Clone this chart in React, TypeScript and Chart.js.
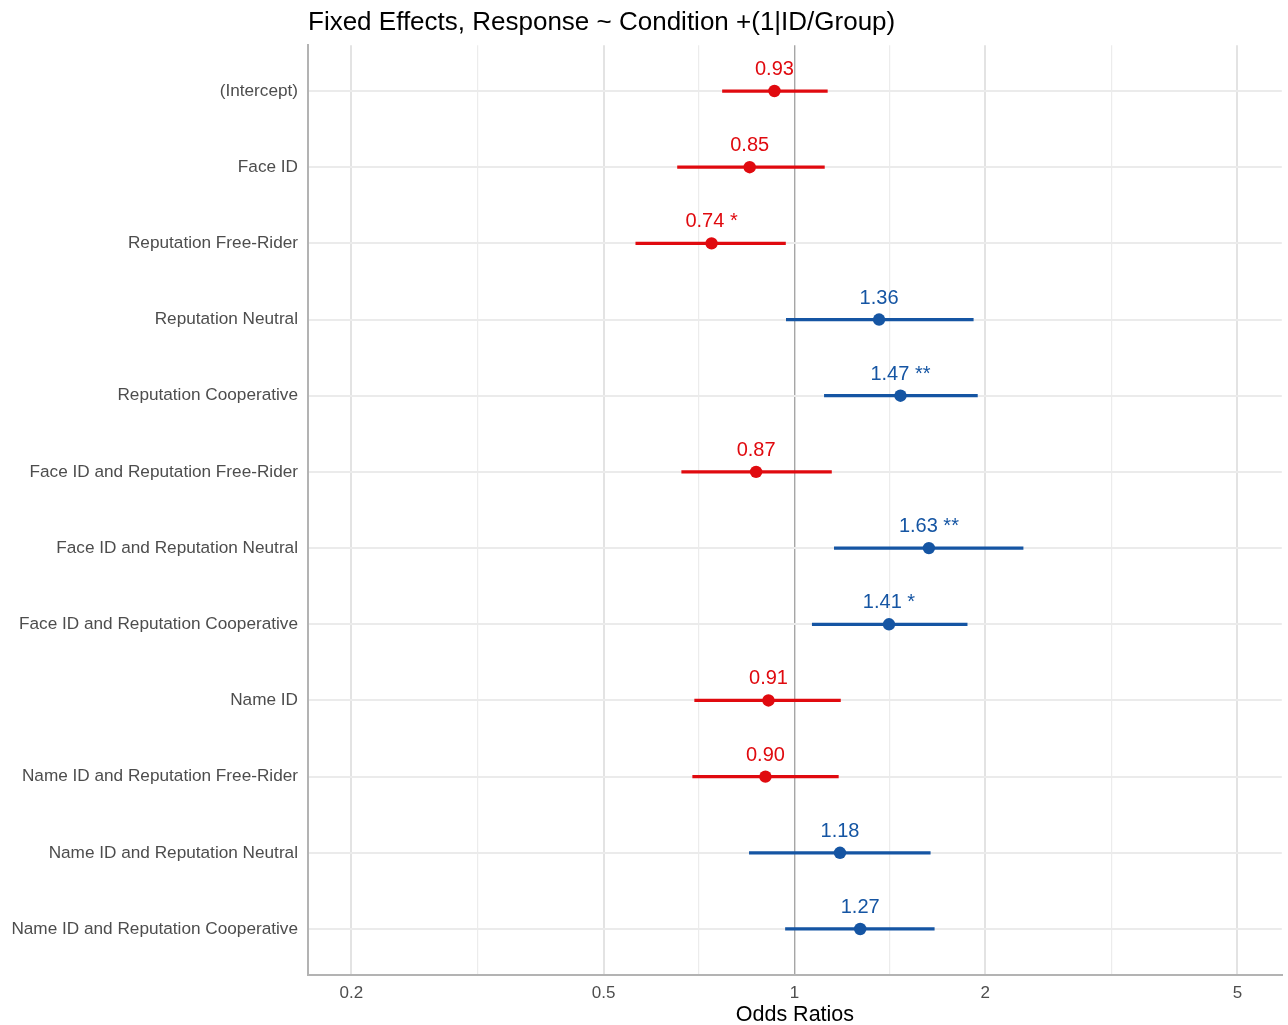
import React, { useEffect, useRef } from "react";
import { Chart, registerables } from "chart.js";

Chart.register(...registerables);

const categories = [
  "(Intercept)",
  "Face ID",
  "Reputation Free-Rider",
  "Reputation Neutral",
  "Reputation Cooperative",
  "Face ID and Reputation Free-Rider",
  "Face ID and Reputation Neutral",
  "Face ID and Reputation Cooperative",
  "Name ID",
  "Name ID and Reputation Free-Rider",
  "Name ID and Reputation Neutral",
  "Name ID and Reputation Cooperative",
];
const estimates = [0.93, 0.85, 0.74, 1.36, 1.47, 0.87, 1.63, 1.41, 0.91, 0.9, 1.18, 1.27];
const ciLow = [0.77, 0.654, 0.562, 0.971, 1.115, 0.664, 1.156, 1.067, 0.696, 0.691, 0.849, 0.968];
const ciHigh = [1.127, 1.115, 0.968, 1.915, 1.944, 1.144, 2.295, 1.873, 1.182, 1.173, 1.638, 1.662];
const stars = ["", "", "*", "", "**", "", "**", "*", "", "", "", ""];
const majorTicks = [0.2, 0.5, 1, 2, 5];
const minorTicks = [0.3162, 0.7071, 1.4142, 3.1623];

const RED = "#e00a0f";
const BLUE = "#1555a3";
const FONT = "'Liberation Sans', Arial, sans-serif";

const colorFor = (v: number) => (v < 1 ? RED : BLUE);

const labelPlugin = {
  id: "valueLabels",
  afterDatasetsDraw(chart: any) {
    const ctx = chart.ctx;
    const xs = chart.scales.x;
    const ys = chart.scales.y;
    ctx.save();
    ctx.font = `20px ${FONT}`;
    ctx.textAlign = "center";
    ctx.textBaseline = "middle";
    estimates.forEach((v, i) => {
      const px = xs.getPixelForValue(v);
      const py = ys.getPixelForValue(i + 1);
      ctx.fillStyle = colorFor(v);
      const txt = v.toFixed(2) + (stars[i] ? " " + stars[i] : "");
      ctx.fillText(txt, px, py - 21.5);
    });
    ctx.restore();
  },
};

export default function App() {
  const ref = useRef<HTMLCanvasElement | null>(null);
  useEffect(() => {
    if (!ref.current) return;
    const chart = new Chart(ref.current, {
      type: "bar",
      data: {
        datasets: [
          {
            type: "bar",
            label: "CI",
            data: categories.map((_, i) => ({ x: [ciLow[i], ciHigh[i]], y: i + 1 })) as any,
            backgroundColor: estimates.map(colorFor),
            borderWidth: 0,
            barThickness: 2.6,
            xAxisID: "x",
            yAxisID: "y",
            order: 2,
          } as any,
          {
            type: "scatter",
            label: "Estimate",
            data: categories.map((_, i) => ({ x: estimates[i], y: i + 1 })),
            backgroundColor: estimates.map(colorFor),
            borderWidth: 0,
            pointRadius: 6.2,
            xAxisID: "x",
            yAxisID: "y",
            order: 1,
          } as any,
        ],
      },
      options: {
        indexAxis: "y",
        animation: false,
        responsive: false,
        maintainAspectRatio: false,
        layout: { padding: { right: 5, left: 0, top: 0, bottom: 0 } },
        plugins: {
          legend: { display: false },
          tooltip: { enabled: false },
          title: {
            display: true,
            text: "Fixed Effects, Response ~ Condition +(1|ID/Group)",
            align: "start",
            fullSize: false,
            color: "#000000",
            font: { family: FONT, size: 26, weight: "normal", lineHeight: 1.2 },
            padding: { top: 7.5, bottom: 6.6 },
          },
        },
        scales: {
          x: {
            type: "logarithmic",
            position: "bottom",
            min: 0.1708,
            max: 5.875,
            afterBuildTicks(scale: any) {
              scale.ticks = [...majorTicks, ...minorTicks]
                .sort((a, b) => a - b)
                .map((v) => ({ value: v, major: false }));
            },
            afterFit(scale: any) {
              scale.height = 50.3;
            },
            ticks: {
              autoSkip: false,
              maxRotation: 0,
              padding: 8,
              color: "#4d4d4d",
              font: { family: FONT, size: 17 },
              callback: (v: any) => (majorTicks.includes(Number(v)) ? String(v) : ""),
            },
            grid: {
              drawTicks: false,
              color: (c: any) => {
                const v = c.tick && c.tick.value;
                if (v === 1) return "#a6a6a6";
                return majorTicks.includes(v) ? "#e3e3e3" : "#ececec";
              },
              lineWidth: (c: any) => {
                const v = c.tick && c.tick.value;
                if (v === 1) return 1.4;
                return majorTicks.includes(v) ? 2 : 1.2;
              },
            },
            border: { display: true, color: "#b3b3b3", width: 2 },
            title: {
              display: true,
              text: "Odds Ratios",
              color: "#000000",
              font: { family: FONT, size: 21.5, lineHeight: 1 },
              padding: { top: 0, bottom: -0.5 },
            },
          },
          y: {
            type: "linear",
            position: "left",
            reverse: true,
            min: 0.4,
            max: 12.6,
            offset: false,
            afterBuildTicks(scale: any) {
              scale.ticks = categories.map((_, i) => ({ value: i + 1 }));
            },
            afterFit(scale: any) {
              scale.width = 308;
            },
            ticks: {
              autoSkip: false,
              padding: 10,
              color: "#4d4d4d",
              font: { family: FONT, size: 17.2 },
              callback: (v: any) => categories[Number(v) - 1] ?? "",
            },
            grid: {
              offset: false,
              drawTicks: false,
              color: "#ebebeb",
              lineWidth: 2,
            },
            border: { display: true, color: "#b3b3b3", width: 2 },
          },
        },
      } as any,
      plugins: [labelPlugin],
    });
    return () => chart.destroy();
  }, []);
  return (
    <div style={{ position: "absolute", left: 0, top: 0, width: 1288, height: 1025, background: "#ffffff" }}>
      <canvas ref={ref} width={1288} height={1025} style={{ display: "block", width: 1288, height: 1025 }} />
    </div>
  );
}
